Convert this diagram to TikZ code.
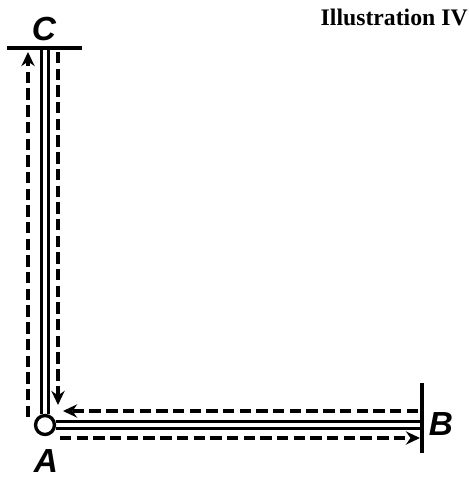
\documentclass[tikz,border=0pt]{standalone}
\usepackage{fontspec}
\setmainfont{Liberation Serif}
\setsansfont{Liberation Sans}
\usetikzlibrary{arrows.meta,calc}

\begin{document}
\begin{tikzpicture}[
  x=0.02cm, y=-0.02cm,
  rod/.style={line width=2pt},
  bar/.style={line width=2pt},
  track/.style={line width=1.9pt, dash pattern=on 6.5pt off 3pt},
  arr/.style={-{Stealth[length=8pt,width=7.5pt]}},
  lbl/.style={font=\sffamily\itshape\bfseries\fontsize{19}{19}\selectfont}
]
\useasboundingbox (0,0) rectangle (468,480);
% pivot and ends
\node[circle, draw, line width=1.9pt, minimum size=0.38cm, inner sep=0pt, fill=white] (A) at (45,425) {};
\coordinate (C) at (45,48);
\coordinate (B) at (422,425);
% the two arms
\draw[rod] ($(C)+(-3.3,0)$) -- ($(A.north)+(-3.3,0)$);
\draw[rod] ($(C)+(3.3,0)$) -- ($(A.north)+(3.3,0)$);
\draw[rod] ($(A.east)+(0,-3.4)$) -- ($(B)+(0,-3.4)$);
\draw[rod] ($(A.east)+(0,3.4)$) -- ($(B)+(0,3.4)$);
% end bars
\draw[bar] ($(C)+(-38,0)$) -- ($(C)+(37,0)$);
\draw[bar] ($(B)+(0,-42)$) -- ($(B)+(0,28)$);
% paths
\draw[track, arr] ($(A)+(15,13)$) -- ($(B)+(-2,13)$);
\draw[track, arr] ($(B)+(-4,-14)$) -- ($(A)+(18,-14)$);
\draw[track, arr] ($(A)+(-17,-8)$) -- ($(C)+(-17,4)$);
\draw[track, arr] ($(C)+(13,4)$) -- ($(A)+(13,-20)$);
% labels
\node[lbl] (lc) at (44,29) {C};
\node[lbl] (la) at (46,461) {A};
\node[lbl] (lb) at (441,424) {B};
\node[font=\bfseries\fontsize{13.5}{13.5}\selectfont, anchor=east, inner sep=0pt] (title) at (468,17) {Illustration IV};
\end{tikzpicture}
\end{document}
